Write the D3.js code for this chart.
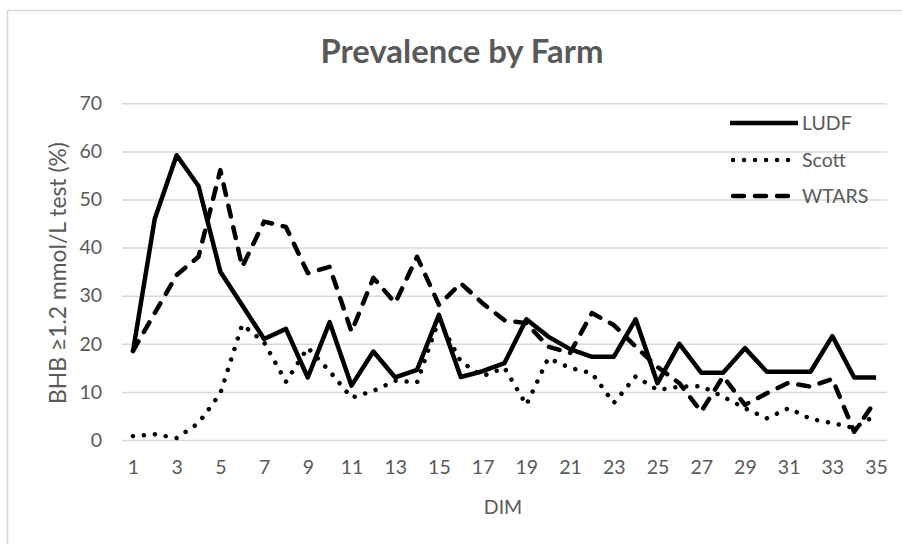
<!DOCTYPE html>
<html><head><meta charset="utf-8">
<script src="https://cdn.jsdelivr.net/npm/d3@7/dist/d3.min.js"></script>
<style>body{margin:0;background:#fff} svg{display:block}</style>
</head><body>
<svg id="c" width="902" height="544"></svg>
<script>
const days = ["1","2","3","4","5","6","7","8","9","10","11","12","13","14","15","16","17","18","19","20","21","22","23","24","25","26","27","28","29","30","31","32","33","34","35"];
const xTickLabels = ["1","3","5","7","9","11","13","15","17","19","21","23","25","27","29","31","33","35"];
const yTickValues = [0,10,20,30,40,50,60,70];
const seriesNames = ["LUDF","Scott","WTARS"];
const ludf  = [18.4,46,59.2,52.8,35,28,21,23.1,13,24.5,11.3,18.4,13,14.6,26,13.1,14.3,16,25.1,21.5,18.9,17.3,17.3,25.1,11.8,20,14,14,19.1,14.2,14.2,14.2,21.6,13,13];
const scott = [0.8,1.2,0.4,3.5,9.7,24,20.3,12.1,19.2,14.3,8.8,10.2,12.3,12,25,16.3,13.3,15,7.3,17,15,13.9,7.7,13.2,10.4,11.1,11.2,9,6.6,4.5,6.6,4.4,3.5,2.5,5.2];
const wtars = [18.5,26.4,34.3,38.1,56.1,36,45.4,44.3,34.7,36,22.5,33.7,28.5,38.1,28.1,32.6,28.4,24.9,24.3,19.4,18.1,26.4,23.9,19.4,15.2,11.8,5.9,13.2,7.3,9.7,11.9,11.1,12.7,1.7,8.3];

const styles = {
  LUDF:  {width:4.5, dash:null},
  Scott: {width:4.5, dash:"0.01,11"},
  WTARS: {width:4.5, dash:"11,11"}
};
const seriesData = {LUDF: ludf, Scott: scott, WTARS: wtars};

const svg = d3.select("#c");
const textColor = "#595959";
const font = "Lato, 'Open Sans', sans-serif";
const fs = "19.5px";

svg.append("rect").attr("x",7.5).attr("y",10.5).attr("width",910).attr("height",560)
  .attr("fill","#fff").attr("stroke","#d9d9d9").attr("stroke-width",1.5);

const x = d3.scalePoint().domain(days).range([122,887]).padding(0.5);
const y = d3.scaleLinear().domain([0,70]).range([440,103.3]);

const yAxis = svg.append("g").attr("transform","translate(122,0)")
  .call(d3.axisLeft(y).tickValues(yTickValues).tickSize(-765).tickPadding(20));
yAxis.select(".domain").remove();
yAxis.selectAll(".tick line").attr("stroke","#d9d9d9").attr("stroke-width",1.5);
yAxis.selectAll(".tick text").attr("fill",textColor).style("font-family",font).style("font-size",fs);

const xAxis = svg.append("g").attr("transform","translate(0,440)")
  .call(d3.axisBottom(x).tickValues(xTickLabels).tickSize(0).tickPadding(20));
xAxis.select(".domain").remove();
xAxis.selectAll(".tick text").attr("fill",textColor).style("font-family",font).style("font-size",fs);

const line = d3.line().x((d,i)=>x(days[i])).y(d=>y(d));
seriesNames.forEach(name=>{
  const s = styles[name];
  svg.append("path").datum(seriesData[name])
    .attr("d",line).attr("fill","none").attr("stroke","#000")
    .attr("stroke-width",s.width).attr("stroke-linejoin","round")
    .attr("stroke-linecap",name==="LUDF"?"butt":"round")
    .attr("stroke-dasharray",s.dash);
});

const title = svg.append("text").attr("x",462).attr("y",63).attr("text-anchor","middle")
  .attr("fill",textColor).style("font-family",font).style("font-weight","700").style("font-size","27px")
  .text("Prevalence by Farm");
const tl = title.node().getComputedTextLength();
title.style("font-size",(27*283/tl).toFixed(2)+"px");

svg.append("text").attr("x",503).attr("y",514).attr("text-anchor","middle")
  .attr("fill",textColor).style("font-family",font).style("font-size",fs).text("DIM");
const ylab = svg.append("text").attr("transform","translate(66,273) rotate(-90)").attr("text-anchor","middle")
  .attr("fill",textColor).style("font-family",font).style("font-size","20px")
  .text("BHB ≥1.2 mmol/L test (%)");
const yl = ylab.node().getComputedTextLength();
ylab.style("font-size",(20*262/yl).toFixed(2)+"px");

const legY = [123, 160, 196];
seriesNames.forEach((name,i)=>{
  const s = styles[name];
  const g = svg.append("g");
  g.append("line").attr("x1",name==="LUDF"?730:733).attr("x2",798).attr("y1",legY[i]).attr("y2",legY[i])
    .attr("stroke","#000").attr("stroke-width",s.width)
    .attr("stroke-linecap",name==="LUDF"?"butt":"round").attr("stroke-dasharray",s.dash);
  g.append("text").attr("x",802).attr("y",legY[i]).attr("dy","0.35em")
    .attr("fill",textColor).style("font-family",font).style("font-size",fs).text(name);
});
</script>
</body></html>
